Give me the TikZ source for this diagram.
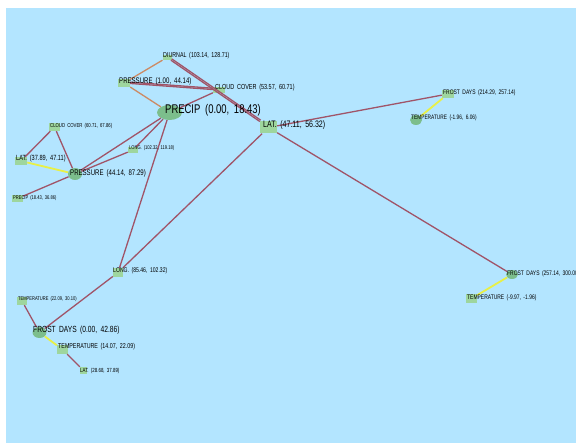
\documentclass[tikz,border=0pt]{standalone}
\usepackage{fontspec}
\usepackage{tikz}
\usetikzlibrary{shapes.geometric}
\newfontfamily\lblfont[FakeStretch=0.75,WordSpace=1.8]{Liberation Sans}

\definecolor{skyblue}{RGB}{179,229,255}
\definecolor{boxgreen}{RGB}{158,214,158}
\definecolor{ovgreen}{RGB}{124,190,140}
\definecolor{mauve}{RGB}{160,84,104}
\definecolor{tan}{RGB}{204,138,100}
\definecolor{lemon}{RGB}{232,240,70}

\tikzset{
  rbox/.style 2 args={rectangle,fill=boxgreen,minimum width=#1pt,minimum height=#2pt,inner sep=0pt},
  oval/.style 2 args={ellipse,fill=ovgreen,minimum width=#1pt,minimum height=#2pt,inner sep=0pt},
  lab/.style={font={\lblfont\fontsize{#1pt}{#1pt}\selectfont},anchor=west,inner sep=0pt},
  link/.style={draw=mauve,line width=1.3pt},
  tanlink/.style={draw=tan,line width=1.3pt},
  yellink/.style={draw=lemon,line width=1.8pt}
}

\begin{document}
\begin{tikzpicture}[x=1pt,y=-1pt]
      \useasboundingbox (0,0) rectangle (576,443);
      \fill[white] (0,0) rectangle (576,443);
      \fill[skyblue] (6,8) rectangle (576,443);
      \clip (6,8) rectangle (576,443);

      % markers
      \node[rbox={9}{5}] (dn) at (167,57.5) {};
      \node[rbox={12}{8}] (pr1) at (124,83) {};
      \node[rbox={12}{6}] (cc1) at (219,90) {};
      \node[oval={25}{15}] (pc1) at (169.5,112.5) {};
      \node[rbox={17}{12}] (lt1) at (268.5,127.5) {};
      \node[rbox={12}{8}] (fd1) at (448,94) {};
      \node[oval={12}{10}] (tp1) at (416,120) {};
      \node[rbox={11}{8}] (cc2) at (54.5,127) {};
      \node[rbox={12}{8}] (lt2) at (21,161) {};
      \node[oval={14}{12}] (pr2) at (75,174) {};
      \node[rbox={10}{6}] (lg1) at (133,150) {};
      \node[rbox={11}{7}] (pc2) at (17.5,198.5) {};
      \node[rbox={10}{9}] (lg2) at (118,272.5) {};
      \node[rbox={10}{8}] (tp2) at (22,301) {};
      \node[oval={14}{11}] (fd2) at (39.5,332.5) {};
      \node[rbox={11}{9}] (tp3) at (62.5,349.5) {};
      \node[rbox={7}{7}] (lt3) at (83.5,370.5) {};
      \node[oval={12}{9}] (fd3) at (512,274.5) {};
      \node[rbox={11}{9}] (tp4) at (471.5,298.5) {};

      % connections
      \draw[link] (dn) -- (lt1);
      \draw[link,transform canvas={xshift=0.9pt,yshift=1.3pt}] (dn) -- (lt1);
      \draw[link] (pr1) -- (cc1);
      \draw[link,transform canvas={yshift=1.3pt}] (pr1) -- (cc1);
      \draw[link] (cc1) -- (pc1);
      \draw[link] (lt1) -- (fd1);
      \draw[link] (lt1) -- (fd3);
      \draw[link] (lt1) -- (lg2);
      \draw[link] (pc1) -- (pr2);
      \draw[link] (pc1) -- (lg1);
      \draw[link] (pc1) -- (lg2);
      \draw[link] (lg1) -- (pr2);
      \draw[link] (cc2) -- (lt2);
      \draw[link] (cc2) -- (pr2);
      \draw[link] (pr2) -- (pc2);
      \draw[link] (lg2) -- (fd2);
      \draw[link] (tp2) -- (fd2);
      \draw[link] (tp3) -- (lt3);
      \draw[tanlink] (dn) -- (pr1);
      \draw[tanlink] (pr1) -- (pc1);
      \draw[yellink] (fd1) -- (tp1);
      \draw[yellink] (fd3) -- (tp4);
      \draw[yellink] (lt2) -- (pr2);
      \draw[yellink] (fd2) -- (tp3);

      % labels
      \node[lab=7.1] (dn-t) at (163,56) {DIURNAL (103.14, 128.71)};
      \node[lab=8.1] (pr1-t) at (119,81) {PRESSURE (1.00, 44.14)};
      \node[lab=7.3] (cc1-t) at (215,88) {CLOUD COVER (53.57, 60.71)};
      \node[lab=12.6] (pc1-t) at (165,110) {PRECIP (0.00, 18.43)};
      \node[lab=9.4] (lt1-t) at (263,125) {LAT. (47.11, 56.32)};
      \node[lab=6.6] (fd1-t) at (443,93) {FROST DAYS (214.29, 257.14)};
      \node[lab=6.4] (tp1-t) at (411,118) {TEMPERATURE (-1.96, 6.06)};
      \node[lab=5.7] (cc2-t) at (50,126) {CLOUD COVER (60.71, 67.86)};
      \node[lab=7.5] (lt2-t) at (16,159) {LAT. (37.89, 47.11)};
      \node[lab=8.1] (pr2-t) at (70,173) {PRESSURE (44.14, 87.29)};
      \node[lab=5.4] (lg1-t) at (129,148) {LONG. (102.32, 119.18)};
      \node[lab=5.4] (pc2-t) at (13,198) {PRECIP (18.43, 36.86)};
      \node[lab=6.8] (lg2-t) at (113,271) {LONG. (85.46, 102.32)};
      \node[lab=5.4] (tp2-t) at (18,299) {TEMPERATURE (22.09, 30.10)};
      \node[lab=8.9] (fd2-t) at (33,330) {FROST DAYS (0.00, 42.86)};
      \node[lab=7.1] (tp3-t) at (58,347) {TEMPERATURE (14.07, 22.09)};
      \node[lab=5.9] (lt3-t) at (80,371) {LAT. (28.68, 37.89)};
      \node[lab=6.6] (fd3-t) at (507,274) {FROST DAYS (257.14, 300.00)};
      \node[lab=6.6] (tp4-t) at (467,298) {TEMPERATURE (-9.97, -1.96)};
    \end{tikzpicture}
\end{document}
